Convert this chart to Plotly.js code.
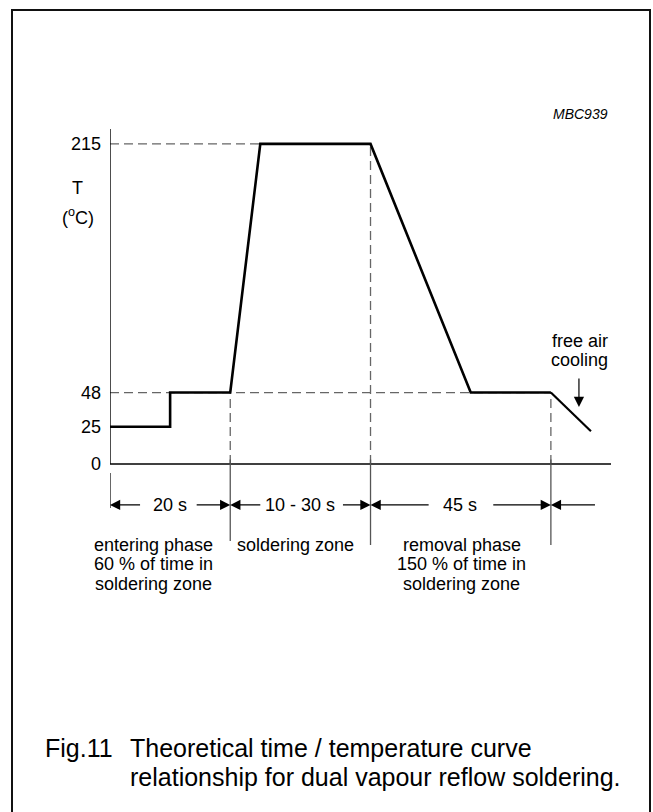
<!DOCTYPE html>
<html>
<head>
<meta charset="utf-8">
<script src="https://cdn.plot.ly/plotly-3.0.1.min.js"></script>
<style>
  html, body { margin: 0; padding: 0; background: #fff; }
  #chart { width: 653px; height: 812px; }
</style>
</head>
<body>
<div id="chart"></div>
<script>
// ---- data (schematic time axis in arbitrary units, temperature in °C) ----
const timeX = [0, 12, 12, 24, 30, 52, 72, 88];
const tempY = [25, 25, 48, 48, 215, 215, 48, 48];
const coolX = [88, 96];
const coolY = [48, 22];
const yTicks = [0, 25, 48, 215];
const yTickText = ['0', '25', '48', '215'];
const yMax = 225;

// phase boundaries and dimension row
const boundaryX = [0, 24, 52, 88];
const dimY = -27.5;
const dimLabels = ['20 s', '10 - 30 s', '45 s'];
const dimLabelX = [11.9, 38, 69.8];
const arrowHeadX = [0, 24, 24, 52, 52, 88, 88];
const arrowTailX = [6.3, 17, 30.3, 46.2, 63.9, 76.2, 97.1];

// phase descriptions
const phaseX = [8.7, 37.1, 70.2];
const phaseText = [
  ['entering phase', '60 % of time in', 'soldering zone'],
  ['soldering zone'],
  ['removal phase', '150 % of time in', 'soldering zone']
];
const phaseLineY = [-54.4, -67.2, -80.6];

// guide lines (dashed)
const hGuides = [{y: 215, x1: 30}, {y: 48, x1: 88}];
const vGuides = [{x: 24, y1: 48}, {x: 52, y1: 215}, {x: 88, y1: 48}];

const coolNote = ['free air', 'cooling'];
const coolNoteX = 93.8;
const coolNoteY = [82.6, 69.9];
const coolArrow = {x: 93.6, y: 38.3, tailY: 58.4};

const captionFig = 'Fig.11';
const captionLines = ['Theoretical time / temperature curve',
                      'relationship for dual vapour reflow soldering.'];

// ---- layout geometry ----
const L = 110, R = 611, T = 129, B = 600;
const W = 653, H = 812;
const px2paperX = p => (p - L) / (R - L);
const px2paperY = p => (B - p) / (B - T);
const yBottom = -91.35;

const FONT = 'Liberation Sans, Arial, Helvetica, sans-serif';

const traces = [
  {x: timeX, y: tempY, mode: 'lines', line: {color: '#000', width: 2.6},
   hoverinfo: 'skip', showlegend: false},
  {x: coolX, y: coolY, mode: 'lines', line: {color: '#000', width: 2.2},
   hoverinfo: 'skip', showlegend: false}
];

const shapes = [];
const dashStyle = {color: '#666', width: 1.3, dash: '9px,5px'};
hGuides.forEach(g => shapes.push({type: 'line', xref: 'x', yref: 'y',
  x0: 0, x1: g.x1, y0: g.y, y1: g.y, line: dashStyle, layer: 'below'}));
vGuides.forEach(g => shapes.push({type: 'line', xref: 'x', yref: 'y',
  x0: g.x, x1: g.x, y0: 0, y1: g.y1, line: dashStyle, layer: 'below'}));
// axes
shapes.push({type: 'line', xref: 'x', yref: 'y', x0: 0, x1: 0, y0: 0, y1: yMax,
  line: {color: '#000', width: 1.4}});
shapes.push({type: 'line', xref: 'x', yref: 'y', x0: 0, x1: 100, y0: 0, y1: 0,
  line: {color: '#000', width: 1.4}});
// extension lines below axis
shapes.push({type: 'line', xref: 'x', yref: 'y', x0: 0, x1: 0, y0: -6, y1: -29.5,
  line: {color: '#000', width: 1.2}});
boundaryX.slice(1).forEach((bx, i) => shapes.push({type: 'line', xref: 'x', yref: 'y',
  x0: bx, x1: bx, y0: 3, y1: i === 0 ? -51.7 : -54.4, line: {color: '#555', width: 1.3}}));
// frame (bottom edge lies just outside the picture, as in the reference)
shapes.push({type: 'rect', xref: 'paper', yref: 'paper',
  x0: px2paperX(12), x1: px2paperX(650), y0: px2paperY(818), y1: px2paperY(10),
  line: {color: '#111', width: 2}});

const annotations = [];
// dimension arrows
arrowHeadX.forEach((hx, i) => annotations.push({
  xref: 'x', yref: 'y', axref: 'x', ayref: 'y',
  x: hx, y: dimY, ax: arrowTailX[i], ay: dimY, text: '',
  showarrow: true, arrowhead: 2, arrowsize: 1.7, arrowwidth: 1.2, arrowcolor: '#000',
  standoff: 0, startstandoff: 0
}));
dimLabels.forEach((t, i) => annotations.push({
  xref: 'x', yref: 'y', x: dimLabelX[i], y: dimY, text: t, showarrow: false,
  font: {family: FONT, size: 18, color: '#000'}, xanchor: 'center', yanchor: 'middle'
}));
phaseText.forEach((lines, i) => lines.forEach((t, j) => annotations.push({
  xref: 'x', yref: 'y', x: phaseX[i], y: phaseLineY[j], text: t, showarrow: false,
  font: {family: FONT, size: 18, color: '#000'}, xanchor: 'center', yanchor: 'middle'
})));
coolNote.forEach((t, j) => annotations.push({
  xref: 'x', yref: 'y', x: coolNoteX, y: coolNoteY[j], text: t, showarrow: false,
  font: {family: FONT, size: 18, color: '#000'}, xanchor: 'center', yanchor: 'middle'
}));
annotations.push({xref: 'x', yref: 'y', axref: 'x', ayref: 'y',
  x: coolArrow.x, y: coolArrow.y, ax: coolArrow.x, ay: coolArrow.tailY, text: '',
  showarrow: true, arrowhead: 2, arrowsize: 1.7, arrowwidth: 1.2, arrowcolor: '#000',
  standoff: 0});
// axis title
annotations.push({xref: 'paper', yref: 'paper', x: px2paperX(77), y: px2paperY(188),
  text: 'T', showarrow: false, font: {family: FONT, size: 18, color: '#000'},
  xanchor: 'center', yanchor: 'middle'});
annotations.push({xref: 'paper', yref: 'paper', x: px2paperX(78), y: px2paperY(216),
  text: '(<sup>o</sup>C)', showarrow: false, font: {family: FONT, size: 18, color: '#000'},
  xanchor: 'center', yanchor: 'middle'});
// code label
annotations.push({xref: 'paper', yref: 'paper', x: px2paperX(610), y: px2paperY(114),
  text: '<i>MBC939</i>', showarrow: false, font: {family: FONT, size: 14, color: '#000'},
  xanchor: 'right', yanchor: 'middle'});
// caption
annotations.push({xref: 'paper', yref: 'paper', x: px2paperX(43), y: px2paperY(748),
  text: captionFig, showarrow: false, font: {family: FONT, size: 25, color: '#000'},
  xanchor: 'left', yanchor: 'middle'});
captionLines.forEach((t, j) => annotations.push({xref: 'paper', yref: 'paper',
  x: px2paperX(128), y: px2paperY(748 + 29 * j),
  text: t, showarrow: false, font: {family: FONT, size: 25, color: '#000'},
  xanchor: 'left', yanchor: 'middle'}));

const layout = {
  width: W, height: H,
  margin: {l: L, r: W - R, t: T, b: H - B, pad: 0},
  paper_bgcolor: '#fff', plot_bgcolor: '#fff',
  showlegend: false,
  xaxis: {range: [0, 100], visible: false, fixedrange: true},
  yaxis: {range: [yBottom, yMax], tickvals: yTicks, ticktext: yTickText,
          showgrid: false, zeroline: false, showline: false, ticks: '',
          ticklabelstandoff: 8,
          tickfont: {family: FONT, size: 18, color: '#000'}, fixedrange: true},
  shapes: shapes,
  annotations: annotations
};

Plotly.newPlot('chart', traces, layout, {staticPlot: true, displayModeBar: false});
</script>
</body>
</html>
